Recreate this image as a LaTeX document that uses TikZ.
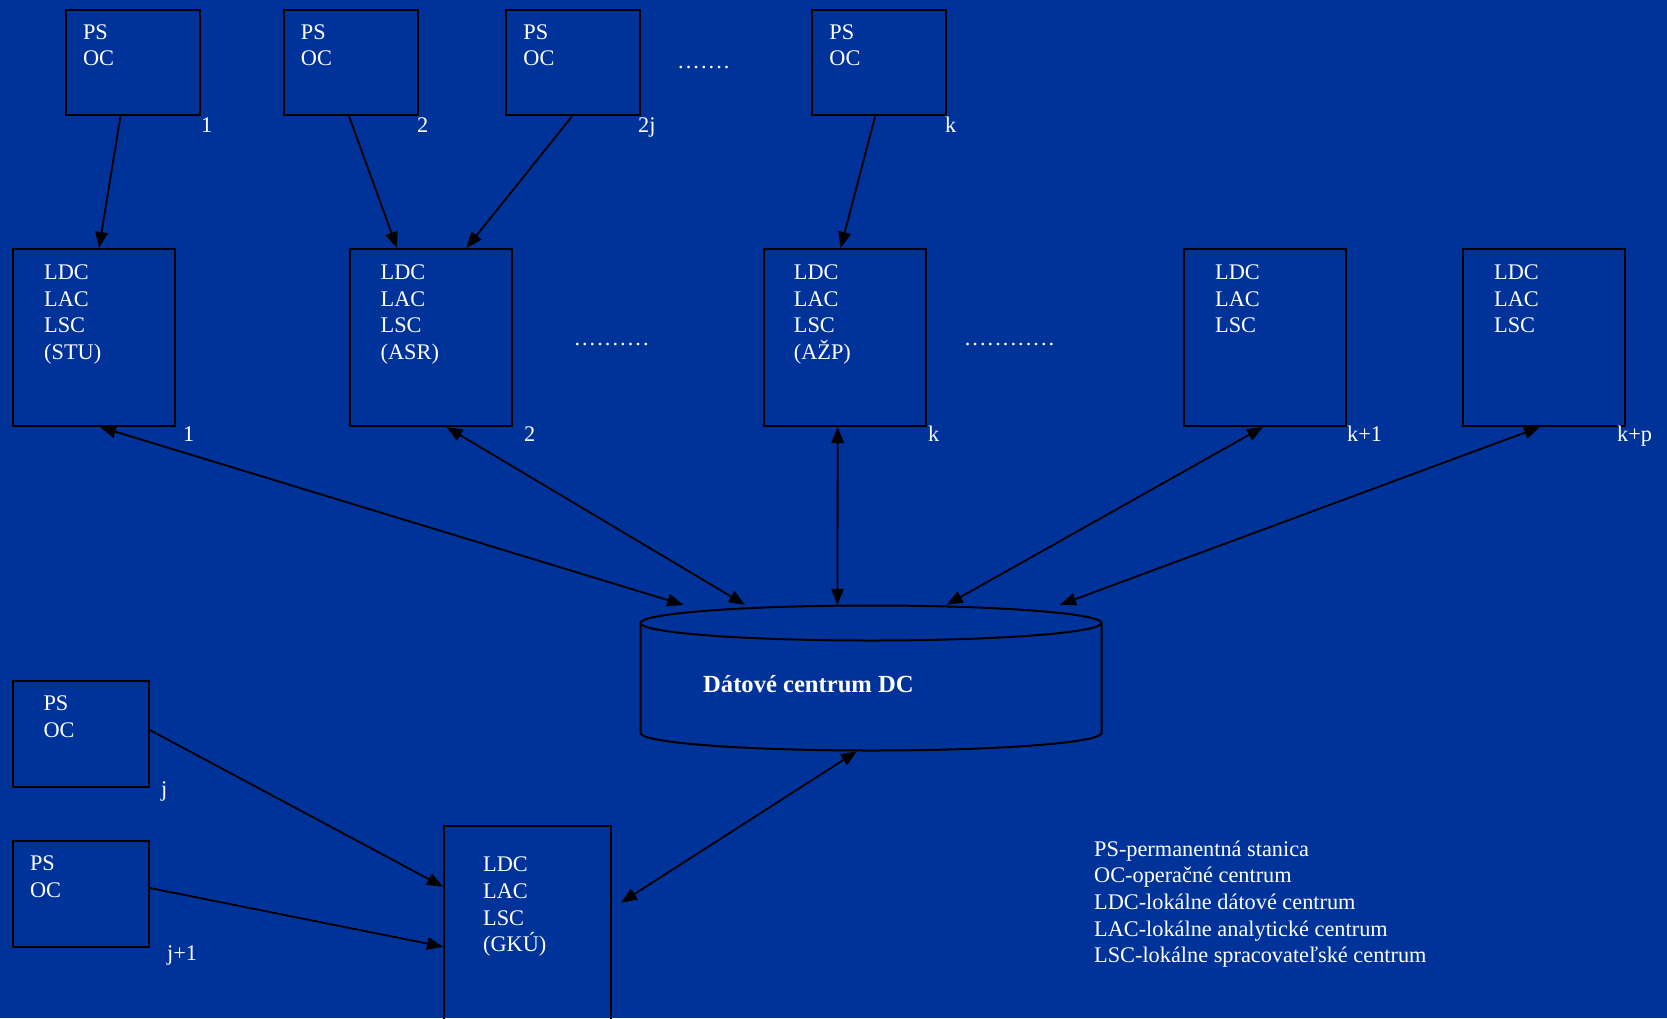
\documentclass[tikz,border=0pt]{standalone}
\usepackage{fontspec}
\setmainfont{Liberation Serif}
\usetikzlibrary{arrows.meta}
\definecolor{bgblue}{RGB}{0,51,153}
\newcommand\dotrun[1]{\foreach \k in {1,...,#1}{.\kern2.05pt}}
\newcommand\stacktext[4]{%
  \foreach \word [count=\i] in {#4}
    {\node[txt] (#1-\i) at ([shift={(#2,{#3+26.7*(\i-1)})}]#1.north west) {\word};}}
\tikzset{
  cellbox/.style={draw=black, line width=2pt, inner sep=0pt},
  psbox/.style={cellbox, minimum width=134pt, minimum height=105.5pt},
  ldcbox/.style={cellbox, minimum width=162pt, minimum height=177pt},
  txt/.style={text=white, anchor=base west, inner sep=0pt, font=\fontsize{22.3pt}{26.7pt}\selectfont},
  link/.style={draw=black, line width=1.8pt, -{Triangle[length=16pt,width=12.5pt]}},
  duplex/.style={link, {Triangle[length=16pt,width=12.5pt]}-{Triangle[length=16pt,width=12.5pt]}},
}

\begin{document}
\begin{tikzpicture}[x=1pt,y=-1pt]
  \useasboundingbox (0,0) rectangle (1667,1018);
  \clip (0,0) rectangle (1667,1018);
  \fill[bgblue] (0,0) rectangle (1667,1018);

  % stations
  \node[psbox] (ps1) at (132.8,62.4) {};
  \node[psbox] (ps2) at (350.7,62.4) {};
  \node[psbox] (ps3) at (573.2,62.4) {};
  \node[psbox] (psk) at (879.2,62.4) {};
  \node[psbox, minimum width=136pt] (psj) at (80.8,733.8) {};
  \node[psbox, minimum width=136pt] (psj1) at (80.8,894) {};
  \foreach \n in {ps1,ps2,ps3,psk,psj1} {\stacktext{\n}{18}{30.6}{PS,OC}}
  \stacktext{psj}{31.6}{30.6}{PS,OC}

  % local centres
  \node[ldcbox] (ldc1) at (94,337.5) {};
  \node[ldcbox] (ldc2) at (430.5,337.5) {};
  \node[ldcbox] (ldck) at (845.2,337.5) {};
  \node[ldcbox] (ldck1) at (1265,337.5) {};
  \node[ldcbox] (ldckp) at (1544,337.5) {};
  \node[cellbox, minimum width=167pt, minimum height=218pt] (gku) at (527.5,935) {};
  \stacktext{ldc1}{32}{31.3}{LDC,LAC,LSC,{(STU)}}
  \stacktext{ldc2}{32}{31.3}{LDC,LAC,LSC,{(ASR)}}
  \stacktext{ldck}{30.5}{31.3}{LDC,LAC,LSC,{(AŽP)}}
  \stacktext{ldck1}{32}{31.3}{LDC,LAC,LSC}
  \stacktext{ldckp}{32}{31.3}{LDC,LAC,LSC}
  \stacktext{gku}{40}{46.7}{LDC,LAC,LSC,{(GKÚ)}}

  % numbers and dots
  \node[txt] (n-ps1) at (201,132.7) {1};
  \node[txt] (n-ps2) at (417,132.7) {2};
  \node[txt] (n-ps3) at (638,132.7) {2j};
  \node[txt] (n-psk) at (945,132.7) {k};
  \node[txt] (n-ldc1) at (183,441.7) {1};
  \node[txt] (n-ldc2) at (524,441.7) {2};
  \node[txt] (n-ldck) at (928,441.7) {k};
  \node[txt] (n-ldck1) at (1347,441.7) {k+1};
  \node[txt] (n-ldckp) at (1617,441.7) {k+p};
  \node[txt] (n-psj) at (161,796) {j};
  \node[txt] (n-psj1) at (167,960) {j+1};
  \node[txt] (dots1) at (678,68.8) {\dotrun{7}};
  \node[txt] (dots2) at (574.3,345.8) {\dotrun{10}};
  \node[txt] (dots3) at (964.6,345.8) {\dotrun{12}};

  % data centre
  \node[inner sep=0pt, minimum width=461pt, minimum height=146pt] (dc) at (871,678) {};
  \draw[line width=2pt] (871,623) ellipse [x radius=230.5, y radius=17.5];
  \draw[line width=2pt] (640.5,623) -- (640.5,733)
    arc [start angle=180, end angle=0, x radius=230.5, y radius=17.5] -- (1101.5,623);
  \node[txt, font=\fontsize{24.6pt}{28pt}\selectfont\bfseries] (dclabel) at (703,692.3) {Dátové centrum DC};

  % connections
  \draw[link] ([xshift=-12.3pt]ps1.south) -- ([xshift=5pt]ldc1.north);
  \draw[link] ([xshift=-1.7pt]ps2.south) -- ([xshift=-33.5pt]ldc2.north);
  \draw[link] ([xshift=-1pt]ps3.south) -- ([xshift=36pt]ldc2.north);
  \draw[link] ([xshift=-4pt]psk.south) -- ([xshift=-4.6pt]ldck.north);
  \draw[duplex] ([xshift=6pt]ldc1.south) -- ([xshift=-187.7pt]dc.north);
  \draw[duplex] ([xshift=16pt]ldc2.south) -- ([xshift=-126pt]dc.north);
  \draw[duplex] ([xshift=-7.5pt]ldck.south) -- ([xshift=-33.5pt]dc.north);
  \draw[duplex] ([xshift=-2pt]ldck1.south) -- ([xshift=75.7pt]dc.north);
  \draw[duplex] ([xshift=-4pt]ldckp.south) -- ([xshift=189pt]dc.north);
  \draw[duplex] ([xshift=-14pt]dc.south) -- ([shift={(9,77.7)}]gku.north east);
  \draw[link] ([yshift=3.8pt]psj.east) -- ([shift={(0,61.7)}]gku.north west);
  \draw[link] ([yshift=6pt]psj1.east) -- ([shift={(0,121.7)}]gku.north west);

  % legend
  \foreach \word [count=\i] in {PS-permanentná stanica, OC-operačné centrum,
      LDC-lokálne dátové centrum, LAC-lokálne analytické centrum,
      LSC-lokálne spracovateľské centrum}
    \node[txt] (leg-\i) at (1094,{856+26.7*(\i-1)}) {\word};
\end{tikzpicture}
\end{document}
